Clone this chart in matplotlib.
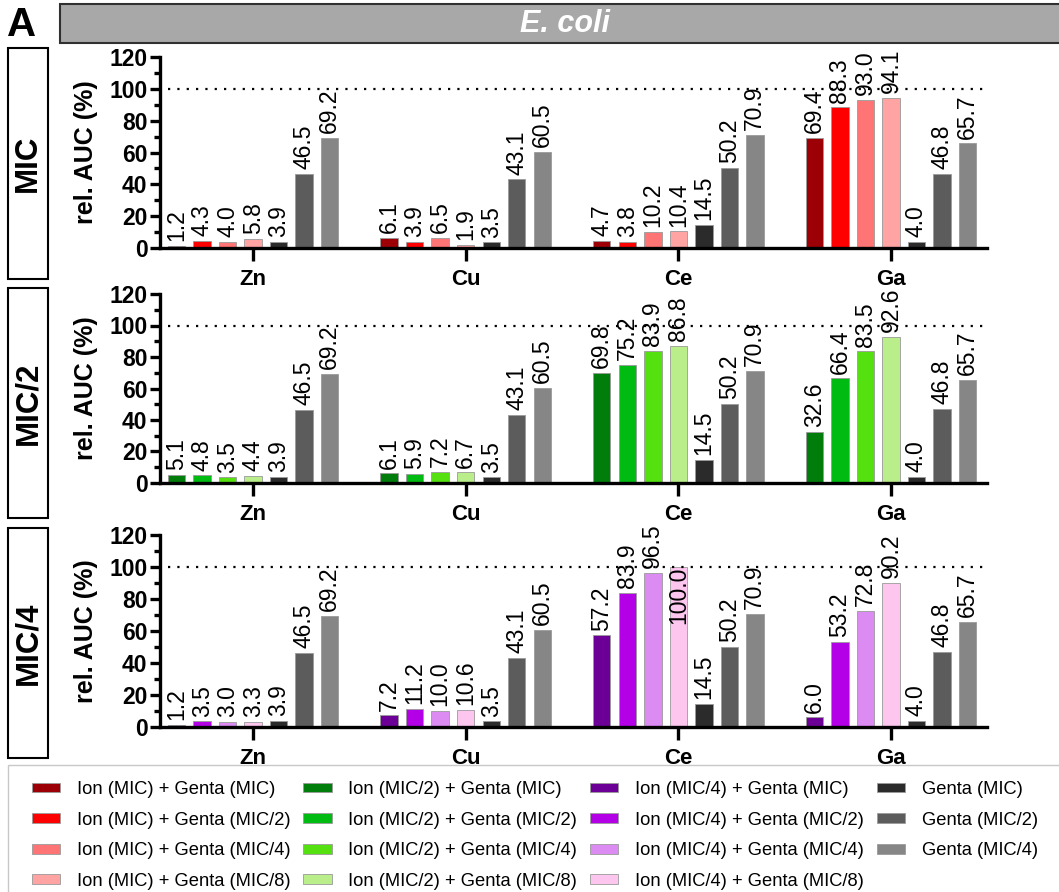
import matplotlib
matplotlib.use('Agg')
import matplotlib.pyplot as plt
from matplotlib.patches import Rectangle
from matplotlib.ticker import MultipleLocator
import numpy as np

plt.rcParams['font.family'] = ['Liberation Sans', 'DejaVu Sans']

elements = ['Zn', 'Cu', 'Ce', 'Ga']
panels = ['MIC', 'MIC/2', 'MIC/4']

# ion + genta series per panel (one value per element)
ion_mic = [[1.2, 6.1, 4.7, 69.4],
           [4.3, 3.9, 3.8, 88.3],
           [4.0, 6.5, 10.2, 93.0],
           [5.8, 1.9, 10.4, 94.1]]
ion_mic2 = [[5.1, 6.1, 69.8, 32.6],
            [4.8, 5.9, 75.2, 66.4],
            [3.5, 7.2, 83.9, 83.5],
            [4.4, 6.7, 86.8, 92.6]]
ion_mic4 = [[1.2, 7.2, 57.2, 6.0],
            [3.5, 11.2, 83.9, 53.2],
            [3.0, 10.0, 96.5, 72.8],
            [3.3, 10.6, 100.0, 90.2]]

# genta alone (same in every panel)
genta_mic = [3.9, 3.5, 14.5, 4.0]
genta_mic2 = [46.5, 43.1, 50.2, 46.8]
genta_mic4 = [69.2, 60.5, 70.9, 65.7]

genta_doses = ['MIC', 'MIC/2', 'MIC/4', 'MIC/8']

reds = ['#9c0006', '#ff0000', '#ff7474', '#ffa3a3']
greens = ['#007d0a', '#00bb12', '#55e010', '#b9ee8a']
purples = ['#6c0096', '#b300e6', '#dc8bf2', '#fcc6ef']
grays = ['#2b2b2b', '#5c5c5c', '#868686']

panel_data = [ion_mic, ion_mic2, ion_mic4]
panel_colors = [reds, greens, purples]
genta_series = [genta_mic, genta_mic2, genta_mic4]

W, H = 1059, 892
fig = plt.figure(figsize=(W / 100, H / 100), dpi=100)

# pixel rows of the three panels (top, bottom)
rows_px = [(57, 248), (294, 483), (535, 727)]
boxes_px = [(48, 279), (288, 518), (528, 758)]
left_px, right_px = 160, 987

x = np.arange(len(elements))
step, width = 0.12, 0.082
handles = {}

for p, (top, bot) in enumerate(rows_px):
    ax = fig.add_axes([left_px / W, 1 - bot / H, (right_px - left_px) / W, (bot - top) / H])
    series = []
    for k in range(4):
        series.append((panel_data[p][k], panel_colors[p][k],
                       f'Ion ({panels[p]}) + Genta ({genta_doses[k]})'))
    for k in range(3):
        series.append((genta_series[k], grays[k], f'Genta ({genta_doses[k]})'))

    for i, (vals, col, lab) in enumerate(series):
        xs = x + (i - 3) * step
        bc = ax.bar(xs, vals, width, color=col, edgecolor='#9a9a9a', linewidth=0.6, label=lab)
        if lab not in handles:
            handles[lab] = bc
        for xx, v in zip(xs, vals):
            if v >= 100:
                ax.annotate(f'{v:.1f}', (xx, v), xytext=(0, 0), textcoords='offset points',
                            rotation=90, ha='center', va='top', fontsize=16.5,
                            annotation_clip=False)
            else:
                ax.annotate(f'{v:.1f}', (xx, v), xytext=(0, 3.5), textcoords='offset points',
                            rotation=90, ha='center', va='bottom', fontsize=16.5,
                            annotation_clip=False)

    ax.axhline(100, xmin=0.01, xmax=0.995, color='black', lw=1.6, linestyle=(0, (1, 3.2)))
    ax.set_xlim(-0.438, 3.452)
    ax.set_ylim(0, 120)
    ax.yaxis.set_major_locator(MultipleLocator(20))
    ax.yaxis.set_minor_locator(MultipleLocator(10))
    ax.set_xticks(x)
    ax.set_xticklabels(elements, fontsize=16, fontweight='bold')
    for t in ax.get_yticklabels():
        t.set_fontweight('bold')
    ax.tick_params(axis='y', which='major', length=7, width=2.4, labelsize=16.5, pad=2)
    ax.tick_params(axis='y', which='minor', length=4, width=2.4)
    ax.tick_params(axis='x', which='major', length=9, width=2.4, pad=6)
    ax.spines[['top', 'right']].set_visible(False)
    ax.spines[['left', 'bottom']].set_linewidth(2.4)
    ax.set_ylabel('rel. AUC (%)', fontsize=18, fontweight='bold', labelpad=8)

    # row label box
    bt, bb = boxes_px[p]
    fig.patches.append(Rectangle((8 / W, 1 - bb / H), 40 / W, (bb - bt) / H,
                                 transform=fig.transFigure, facecolor='white',
                                 edgecolor='black', lw=1.5))
    fig.text(28 / W, 1 - (bt + bb) / 2 / H, panels[p], rotation=90, ha='center', va='center',
             fontsize=22.5, fontweight='bold')

# header banner
fig.patches.append(Rectangle((60 / W, 1 - 43 / H), 1010 / W, 39 / H, transform=fig.transFigure,
                             facecolor='#a8a8a8', edgecolor='#303030', lw=1.5))
fig.text(565 / W, 1 - 24 / H, 'E. coli', ha='center', va='center', color='white',
         fontsize=22, fontweight='bold', fontstyle='italic')
fig.text(22 / W, 1 - 25 / H, 'A', ha='center', va='center', fontsize=29, fontweight='bold')

# legend
fig.patches.append(Rectangle((8 / W, -0.01), 1060 / W, 1 - 765 / H + 0.01,
                             transform=fig.transFigure, facecolor='white',
                             edgecolor='#c8c8c8', lw=1))
order = ([f'Ion (MIC) + Genta ({d})' for d in genta_doses]
         + [f'Ion (MIC/2) + Genta ({d})' for d in genta_doses]
         + [f'Ion (MIC/4) + Genta ({d})' for d in genta_doses]
         + [f'Genta ({d})' for d in genta_doses[:3]])
fig.legend([handles[o] for o in order], order, ncol=4, loc='upper left',
           bbox_to_anchor=(32 / W, 1 - 781 / H), frameon=False, fontsize=13.2,
           handlelength=1.55, handleheight=0.45, handletextpad=0.9,
           columnspacing=0.7, labelspacing=0.74, borderpad=0, borderaxespad=0)

fig.savefig('out.png', dpi=100)
